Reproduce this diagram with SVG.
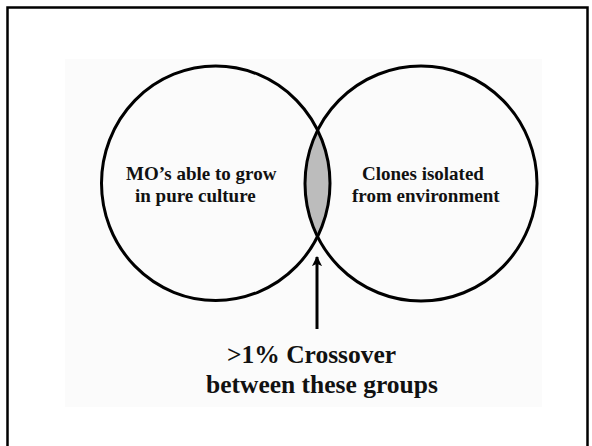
<svg xmlns="http://www.w3.org/2000/svg" width="592" height="446" viewBox="0 0 592 446">
  <style>
    .set { fill: none; stroke: #000; stroke-width: 3; }
    .lbl { font-family: "Liberation Serif", "Times New Roman", serif; font-weight: bold; fill: #111; }
    .small { font-size: 19px; }
    .big { font-size: 25.5px; }
  </style>
  <defs>
    <marker id="head" viewBox="0 0 10 10" refX="9" refY="5" markerWidth="3.6" markerHeight="3.4" orient="auto" markerUnits="strokeWidth">
      <path d="M0,0 L10,5 L0,10 L2.5,5 Z" fill="#000"/>
    </marker>
  </defs>
  <rect x="0" y="0" width="592" height="446" fill="#fff"/>
  <rect id="frame" x="7.5" y="7.5" width="580" height="460" fill="none" stroke="#000" stroke-width="2.5"/>
  <rect id="panel" x="65" y="59" width="477" height="348" fill="#fbfbfb"/>

  <g id="overlap">
    <path d="M317.4,129.7 A114.25,117.25 0 0 1 317.4,236.8 A116,117.5 0 0 1 317.4,129.7 Z" fill="#bcbcbc"/>
  </g>
  <g id="set-cultured">
    <ellipse class="set" cx="215.75" cy="183.25" rx="114.25" ry="117.25"/>
    <text class="lbl small" x="126" y="180">MO’s able to grow</text>
    <text class="lbl small" x="135" y="202">in pure culture</text>
  </g>
  <g id="set-clones">
    <ellipse class="set" cx="421" cy="183.5" rx="116" ry="117.5"/>
    <text class="lbl small" x="362" y="180">Clones isolated</text>
    <text class="lbl small" x="352" y="202">from environment</text>
  </g>
  <g id="connectors">
    <line x1="317" y1="329" x2="317" y2="257" stroke="#000" stroke-width="3" marker-end="url(#head)"/>
  </g>
  <g id="crossover-label">
    <text class="lbl big" x="227" y="363">&gt;1% Crossover</text>
    <text class="lbl big" x="206" y="393">between these groups</text>
  </g>
</svg>
